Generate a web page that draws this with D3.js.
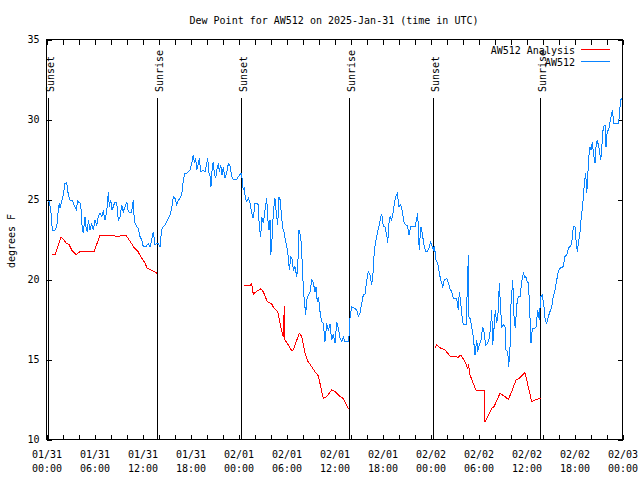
<!DOCTYPE html>
<html><head><meta charset="utf-8">
<script src="https://cdn.jsdelivr.net/npm/d3@7"></script>
<style>
body{margin:0;background:#fff}
svg{display:block}
text{font-family:"DejaVu Sans Mono",monospace;font-size:10px;fill:#000}
</style>
</head><body>
<svg id="c" width="640" height="480"></svg>
<script>
// ---- data (hours after 2025-01-31 00:00 UTC) ----
const chartTitle = "Dew Point for AW512 on 2025-Jan-31 (time in UTC)";
const yLabel = "degrees F";
const seriesNames = ["AW512 Analysis", "AW512"];
const startUTC = Date.UTC(2025, 0, 31, 0, 0);
const spanHours = 72;
const yTicks = [10, 15, 20, 25, 30, 35];

const obsHours = [0.2,0.35,0.53,0.73,1.06,1.28,1.48,1.6,1.69,1.9,2.1,2.31,2.53,2.73,2.94,3.28,3.44,3.56,3.78,3.85,4.1,4.28,4.4,4.6,4.81,4.94,5.1,5.23,5.44,5.65,5.85,6.06,6.28,6.48,6.69,6.9,7.1,7.31,7.53,7.73,7.85,8.03,8.19,8.35,8.56,8.78,8.98,9.19,9.4,9.6,9.81,10.03,10.23,10.44,10.65,10.85,10.98,11.28,11.48,11.69,11.9,12.1,12.44,12.73,12.94,13.15,13.35,13.56,13.78,13.98,14.19,
14.31,14.4,14.6,14.81,15.03,15.23,15.44,15.65,15.85,16.06,16.28,16.48,16.69,16.9,17.1,17.31,17.53,17.73,17.94,18.15,18.35,18.48,18.65,18.78,18.98,19.1,19.28,19.6,19.81,20.03,20.15,20.31,20.53,20.56,20.73,20.85,20.98,21.15,21.28,21.48,21.6,21.78,21.94,22.1,22.31,22.6,22.73,22.94,23.15,23.35,23.78,23.98,24.19,24.4,24.48,24.6,24.73,24.85,25.03,25.23,25.44,25.65,25.85,26.06,26.28,26.48,26.6,26.78,26.9,27.1,27.31,27.53,27.65,27.81,27.94,
28.03,28.23,28.35,28.56,28.69,28.9,29.06,29.19,29.31,29.53,29.69,29.85,30.03,30.23,30.35,30.56,30.73,30.85,31.06,31.28,31.4,31.56,31.78,31.9,32.03,32.19,32.4,32.53,32.73,32.94,33.15,33.35,33.56,33.69,33.85,34.0,34.19,34.4,34.6,34.81,35.03,35.23,35.44,35.65,35.85,36.06,36.28,36.48,36.69,36.9,37.1,37.31,37.73,37.85,37.94,38.15,38.56,38.78,38.98,39.19,39.4,39.6,39.81,40.03,40.23,40.44,40.65,40.85,40.98,
41.19,41.4,41.6,41.78,41.9,42.1,42.31,42.53,42.65,42.81,42.94,43.15,43.35,43.48,43.65,43.85,44.06,44.28,44.48,44.69,44.9,45.1,45.31,45.53,46.06,46.28,46.4,46.53,46.6,46.78,46.9,47.03,47.19,47.4,47.6,47.81,48.03,48.19,48.35,48.48,48.69,48.9,49.1,49.31,49.53,49.73,50.03,50.23,50.44,50.65,50.85,51.28,51.48,51.6,51.78,51.9,52.1,52.44,52.6,52.73,52.81,52.94,53.15,53.35,53.56,53.78,53.9,54.1,54.31,54.53,54.69,54.9,55.1,
55.35,55.53,55.65,55.78,55.94,56.1,56.28,56.48,56.6,56.78,56.9,57.1,57.31,57.44,57.65,57.78,57.94,58.06,58.28,58.44,58.6,58.78,58.98,59.19,59.4,59.6,59.81,59.94,60.1,60.25,60.44,60.56,60.73,60.94,61.19,61.4,61.6,61.78,61.98,62.19,62.35,62.53,62.73,62.94,63.15,63.35,63.56,63.78,63.98,64.19,64.4,64.6,64.81,65.03,65.23,65.44,65.63,65.78,65.85,66.06,66.19,66.35,66.48,66.69,66.81,66.98,67.1,67.23,67.4,67.53,67.65,67.78,67.94,68.06,68.23,68.35,68.56,68.69,68.85,69.06,69.28,69.4,69.6,69.81,69.94,70.1,70.25,70.44,70.65,70.78,70.85,71.48,71.6,71.69,71.78,71.85,71.94];

const obsValues = [24.9,24.86,24.34,23.09,23.09,23.3,24.34,24.76,24.45,24.86,25.28,26.01,26.05,25.28,24.97,24.93,24.66,24.55,24.34,24.93,24.8,24.76,23.51,22.89,23.93,23.3,22.99,23.72,23.09,23.51,23.09,23.72,23.41,23.93,24.14,23.93,24.24,23.72,24.24,25.49,24.55,24.97,24.34,24.55,24.86,24.76,23.72,23.93,24.66,24.24,24.55,24.86,24.24,24.14,24.24,24.97,23.61,23.3,23.2,22.68,22.47,22.05,22.05,22.26,22.05,22.47,22.99,22.16,22.26,22.26,22.05,
22.68,23.09,23.3,23.41,23.61,23.82,24.03,24.45,25.18,25.07,24.66,24.97,25.07,25.28,26.22,26.64,26.64,26.74,26.84,27.26,27.78,27.36,27.57,26.84,27.26,27.57,26.74,26.84,26.74,27.26,27.57,26.64,26.32,25.8,27.05,27.36,26.64,26.32,26.84,27.26,26.74,27.16,26.53,27.05,26.32,26.84,27.26,27.1,26.42,26.26,26.26,26.42,26.57,26.64,26.01,25.59,25.8,25.07,24.86,25.07,24.76,24.14,23.82,24.76,24.76,24.66,23.2,22.68,23.93,23.51,24.34,25.07,23.82,23.09,23.72,
21.53,22.78,24.24,25.07,24.34,23.41,25.18,25.0,24.34,23.2,22.99,22.47,22.05,21.43,20.59,21.43,21.22,20.59,20.8,20.18,20.7,23.09,22.68,21.74,20.18,18.93,17.78,18.72,19.03,19.2,19.97,19.8,19.24,19.5,18.61,18.9,17.99,17.36,17.26,16.11,17.26,16.8,17.2,16.22,16.6,16.01,17.36,16.95,16.32,16.11,16.4,16.11,16.11,16.64,17.6,18.3,18.2,18.09,17.72,17.89,18.51,19.03,19.09,19.97,20.49,20.28,19.66,20.59,21.84,
22.47,22.99,23.41,23.93,24.09,23.3,23.3,22.78,22.26,23.51,23.93,23.72,24.24,24.76,25.18,25.39,24.55,24.66,24.24,23.61,23.41,23.4,22.78,23.3,23.3,23.82,24.14,22.47,21.84,23.3,23.1,22.68,22.16,21.74,21.74,21.95,22.36,22.1,21.84,22.1,21.22,21.01,20.4,19.9,19.55,19.97,20.07,19.8,19.4,19.24,18.82,18.8,18.09,19.24,18.51,17.89,17.16,17.16,19.45,21.53,17.68,17.57,17.05,16.43,15.28,16.22,15.49,15.9,16.22,17.05,16.74,15.91,16.0,
16.32,17.16,18.09,15.91,16.95,18.09,17.26,18.09,19.76,18.09,17.05,17.16,17.05,15.59,15.5,14.55,15.8,18.41,19.97,17.68,16.95,18.41,18.93,18.9,19.86,20.39,20.1,20.18,19.86,19.8,17.57,16.01,16.95,16.9,17.05,18.09,17.47,18.93,19.03,18.3,17.4,17.26,17.68,18.0,18.3,18.93,19.34,19.97,20.49,20.7,20.76,20.8,21.43,21.53,21.95,22.05,22.2,22.89,23.3,23.3,22.47,21.74,22.26,22.99,23.72,24.45,25.07,26.01,26.64,25.39,26.42,27.67,28.3,28.09,28.61,27.99,27.26,28.3,28.72,28.2,27.47,28.2,29.55,29.66,28.3,29.34,29.3,29.86,30.39,30.59,29.76,29.76,30.18,30.8,31.22,31.26,31.3];

const analysisHours = [0.69,1.06,1.81,2.19,2.5,2.81,3.19,3.69,4.19,4.69,5.94,6.69,8.19,8.81,9.94,10.44,10.94,11.44,11.81,12.31,12.56,13.06,13.78, null,
24.69,25.44,25.65,25.85,26.28,26.78,27.1,27.6,28.15,28.44,28.9,29.19,29.48,29.6,29.73,29.81,30.23,30.65,30.85,31.6,31.9,32.31,32.65,33.15,33.56,33.98,34.6,35.03,35.65,36.06,36.69,37.1,37.73,37.85, null,
48.56,48.78,49.28,49.81,50.44,51.06,51.48,51.78,52.31,52.65,52.75,52.94,53.35,53.69,54.73,54.81,55.23,55.65,55.94,56.69,57.31,57.73,58.15,58.69,59.1,59.81,60.65,61.28,61.78];
const analysisValues = [21.55,21.55,22.65,22.45,22.25,22.2,21.8,21.55,21.75,21.75,21.75,22.75,22.75,22.7,22.75,22.4,22.0,21.75,21.4,21.05,20.7,20.6,20.4, null,
19.64,19.64,19.72,19.07,19.28,19.41,19.24,18.61,18.47,18.2,17.99,17.26,16.64,16.43,18.36,16.22,15.91,15.55,15.6,16.64,16.43,15.39,14.91,14.55,14.24,13.97,12.57,12.68,13.09,12.99,12.68,12.57,11.95,11.95, null,
15.74,15.91,15.7,15.6,15.22,15.18,15.14,15.28,14.86,14.45,14.7,14.03,13.51,13.09,13.05,11.11,11.53,11.95,12.05,12.89,12.68,12.51,12.99,13.72,13.82,14.18,12.36,12.51,12.57];

const sunHours = [0.25, 13.875, 24.375, 37.875, 48.375, 61.75];
const sunLabels = ["Sunset", "Sunrise", "Sunset", "Sunrise", "Sunset", "Sunrise"];
const seriesColors = ["#ff0000", "#0a84ff"];

// ---- drawing ----
const svg = d3.select("#c");
const H = 3600e3;
const toDate = h => new Date(startUTC + h * H);
const x = d3.scaleUtc().domain([toDate(0), toDate(spanHours)]).range([46.5, 622.5]);
const y = d3.scaleLinear().domain([10, 35]).range([439.5, 39.5]);

function build(hs, vs) {
  const n = Math.min(hs.length, vs.length), out = [];
  for (let i = 0; i < n; i++) out.push({t: hs[i] == null ? null : toDate(hs[i]), v: vs[i]});
  return out;
}
const analysis = build(analysisHours, analysisValues);
const obs = build(obsHours, obsValues);

svg.append("text").attr("x", 334).attr("y", 24).attr("text-anchor", "middle").text(chartTitle);
svg.append("text").attr("transform", "translate(15,241) rotate(-90)").attr("text-anchor", "middle").text(yLabel);

function styleAxis(g) {
  g.attr("font-family", null).attr("font-size", null);
  g.select(".domain").remove();
  g.selectAll(".tick line").attr("stroke", "#000").attr("shape-rendering", "crispEdges");
}
const hourTicks = d3.utcHour.every(2);
const gx = svg.append("g").attr("transform", `translate(0,${y(10)})`)
  .call(d3.axisBottom(x).ticks(hourTicks).tickSizeInner(-5).tickSizeOuter(0).tickFormat(() => ""));
styleAxis(gx);
const fD = d3.utcFormat("%m/%d"), fT = d3.utcFormat("%H:%M");
gx.selectAll(".tick text").each(function(d) {
  const t = d3.select(this);
  t.attr("y", null).attr("dy", null).text(null);
  if (d.getUTCHours() % 6 !== 0) return;
  t.append("tspan").attr("x", 0).attr("y", 18).text(fD(d));
  t.append("tspan").attr("x", 0).attr("y", 32.5).text(fT(d));
});
const gt = svg.append("g").attr("transform", `translate(0,${y(35)})`)
  .call(d3.axisTop(x).ticks(hourTicks).tickSizeInner(-5).tickSizeOuter(0).tickFormat(() => ""));
styleAxis(gt);
const gy = svg.append("g").attr("transform", `translate(${x.range()[0]},0)`)
  .call(d3.axisLeft(y).tickValues(yTicks).tickSizeInner(-5).tickSizeOuter(0).tickPadding(7).tickFormat(d3.format("d")));
styleAxis(gy);
const gr = svg.append("g").attr("transform", `translate(${x.range()[1]},0)`)
  .call(d3.axisRight(y).tickValues(yTicks).tickSizeInner(-5).tickSizeOuter(0).tickFormat(() => ""));
styleAxis(gr);

// frame
svg.append("rect").attr("x", x.range()[0]).attr("y", y(35))
  .attr("width", x.range()[1] - x.range()[0]).attr("height", y(10) - y(35))
  .attr("fill", "none").attr("stroke", "#000").attr("shape-rendering", "crispEdges");

// sunrise / sunset markers
const sun = svg.append("g");
sunHours.forEach((h, i) => {
  const sx = Math.round(x(toDate(h)) - 0.5) + 0.5;
  sun.append("line").attr("x1", sx).attr("x2", sx).attr("y1", 97.5).attr("y2", y(10))
    .attr("stroke", "#000").attr("shape-rendering", "crispEdges");
  sun.append("text").attr("transform", `translate(${sx + 5},92) rotate(-90)`).text(sunLabels[i]);
});

// series
const line = d3.line().defined(d => d.t != null && d.v != null).x(d => x(d.t)).y(d => y(d.v));
svg.append("path").datum(analysis).attr("d", line).attr("fill", "none")
  .attr("stroke", seriesColors[0]).attr("stroke-width", 1).attr("shape-rendering", "crispEdges");
svg.append("path").datum(obs).attr("d", line).attr("fill", "none")
  .attr("stroke", seriesColors[1]).attr("stroke-width", 1).attr("shape-rendering", "crispEdges");

// legend
const leg = svg.append("g");
seriesNames.forEach((name, i) => {
  const ly = 49.5 + i * 12;
  leg.append("text").attr("x", 575).attr("y", ly + 4.5).attr("text-anchor", "end").text(name);
  leg.append("rect").attr("x", 581).attr("y", ly - 0.5).attr("width", 29).attr("height", 1)
    .attr("fill", seriesColors[i]).attr("shape-rendering", "crispEdges");
});
</script>
</body></html>
